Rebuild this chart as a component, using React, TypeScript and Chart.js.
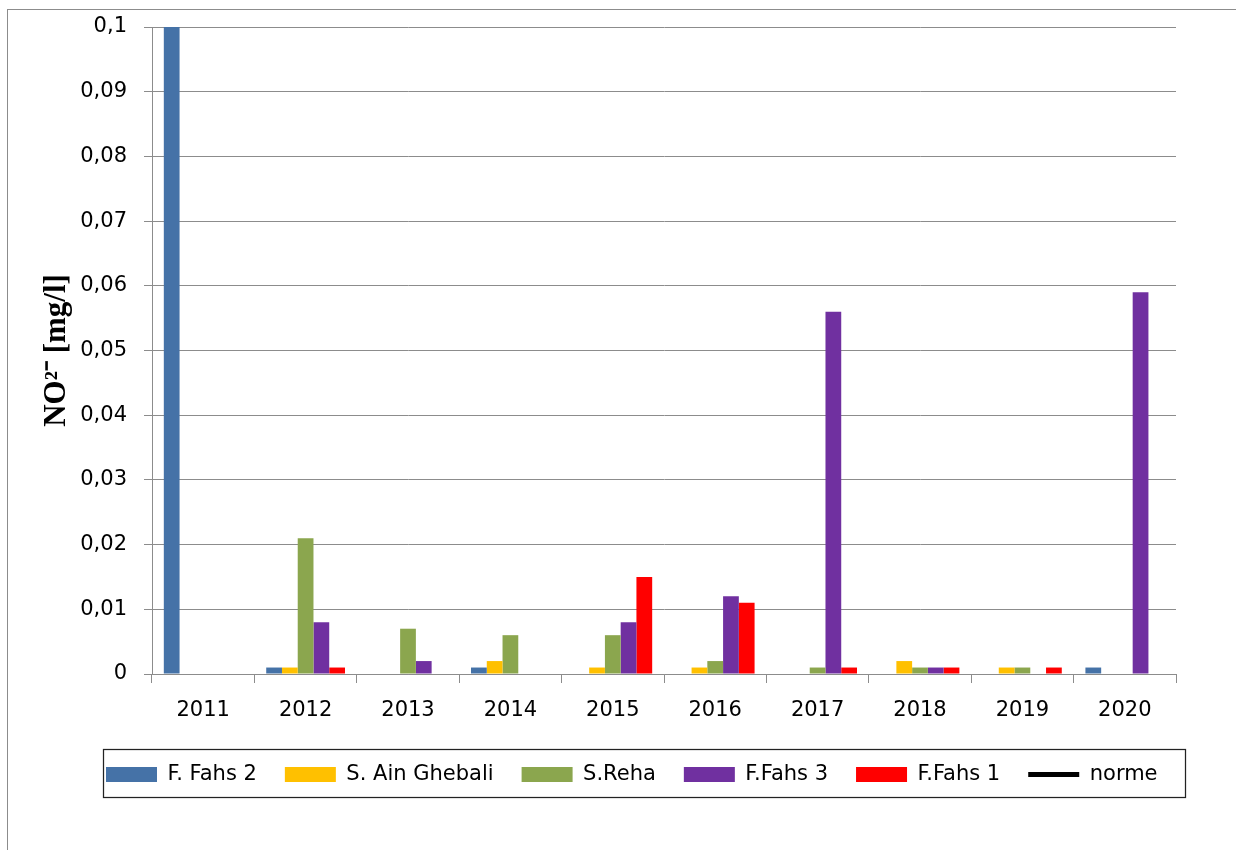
import React, { useEffect, useRef } from "react";
import { Chart, registerables } from "chart.js";

Chart.register(...registerables);

const years = ["2011", "2012", "2013", "2014", "2015", "2016", "2017", "2018", "2019", "2020"];
const fFahs2 = [0.1, 0.001, 0, 0.001, 0, 0, 0, 0, 0, 0.001];
const sAinGhebali = [0, 0.001, 0, 0.002, 0.001, 0.001, 0, 0.002, 0.001, 0];
const sReha = [0, 0.021, 0.007, 0.006, 0.006, 0.002, 0.001, 0.001, 0.001, 0];
const fFahs3 = [0, 0.008, 0.002, 0, 0.008, 0.012, 0.056, 0.001, 0, 0.059];
const fFahs1 = [0, 0.001, 0, 0, 0.015, 0.011, 0.001, 0.001, 0.001, 0];
const norme = [0.2, 0.2, 0.2, 0.2, 0.2, 0.2, 0.2, 0.2, 0.2, 0.2];

const yMin = 0;
const yMax = 0.1;
const yStep = 0.01;

const seriesNames = ["F. Fahs 2", "S. Ain Ghebali", "S.Reha", "F.Fahs 3", "F.Fahs 1", "norme"];
const seriesColors = ["#4572A7", "#FFC000", "#8BA64E", "#7030A0", "#FF0000", "#000000"];

const GRID = "#8C8C8C";
const FONT = "'DejaVu Sans', sans-serif";

const decorPlugin = {
  id: "decor",
  afterLayout(chart: any) {
    if (chart.legend) {
      chart.legend.left = 78;
      chart.legend.right = 1236;
    }
  },
  afterDraw(chart: any) {
    const ctx = chart.ctx;
    ctx.save();
    ctx.strokeStyle = GRID;
    ctx.lineWidth = 1;
    ctx.strokeRect(7.5, 9.5, 1400, 1000);
    ctx.strokeStyle = "#222";
    ctx.lineWidth = 1.25;
    ctx.strokeRect(103.5, 749.5, 1082, 48);
    ctx.restore();
  },
};

export default function App() {
  const ref = useRef<HTMLCanvasElement | null>(null);

  useEffect(() => {
    if (!ref.current) return;
    const barData = [fFahs2, sAinGhebali, sReha, fFahs3, fFahs1];
    const datasets: any[] = barData.map((d, i) => ({
      type: "bar",
      label: seriesNames[i],
      data: d,
      backgroundColor: seriesColors[i],
      borderWidth: 0,
      categoryPercentage: 5 / 6.5,
      barPercentage: 1,
      pointStyle: "rect",
    }));
    datasets.push({
      type: "line",
      label: seriesNames[5],
      data: norme,
      borderColor: seriesColors[5],
      backgroundColor: seriesColors[5],
      borderWidth: 5,
      borderCapStyle: "round",
      pointRadius: 0,
      pointStyle: "line",
    });

    const chart = new Chart(ref.current, {
      type: "bar",
      data: { labels: years, datasets },
      options: {
        responsive: false,
        animation: false,
        devicePixelRatio: 1,
        layout: { padding: { left: 0, right: 60, top: 27, bottom: 55 } },
        plugins: {
          legend: {
            position: "bottom",
            align: "start",
            labels: {
              usePointStyle: true,
              pointStyleWidth: 51,
              boxHeight: 15,
              padding: 28,
              color: "#000",
              font: { family: FONT, size: 21 },
              sort: (a: any, b: any) => a.datasetIndex - b.datasetIndex,
            },
          },
          tooltip: { enabled: false },
        },
        scales: {
          x: {
            grid: {
              display: true,
              drawOnChartArea: false,
              drawTicks: true,
              tickLength: 9,
              color: GRID,
              offset: true,
            },
            border: { color: GRID },
            ticks: { color: "#000", font: { family: FONT, size: 21 }, padding: 15, maxRotation: 0 },
            afterFit: (s: any) => {
              s.height = 62;
              s.paddingLeft = 0;
              s.paddingRight = 0;
            },
          },
          y: {
            min: yMin,
            max: yMax,
            ticks: {
              stepSize: yStep,
              color: "#000",
              font: { family: FONT, size: 21 },
              padding: 17,
              callback: (v: any) => String(Math.round(Number(v) * 1000) / 1000).replace(".", ","),
            },
            grid: { color: GRID, tickLength: 8 },
            border: { color: GRID },
            title: {
              display: true,
              text: "NO²⁻ [mg/l]",
              color: "#000",
              font: { family: "'Liberation Serif', serif", size: 31, weight: "bold" },
              padding: { top: 38.5, bottom: 0 },
            },
            afterFit: (s: any) => {
              s.width = 152;
              s.paddingTop = 0;
              s.paddingBottom = 0;
            },
          },
        },
      } as any,
      plugins: [decorPlugin],
    });
    return () => chart.destroy();
  }, []);

  return (
    <div style={{ position: "absolute", left: 0, top: 0, width: 1236, height: 850, background: "#fff" }}>
      <canvas ref={ref} width={1236} height={850} style={{ display: "block" }} />
    </div>
  );
}
